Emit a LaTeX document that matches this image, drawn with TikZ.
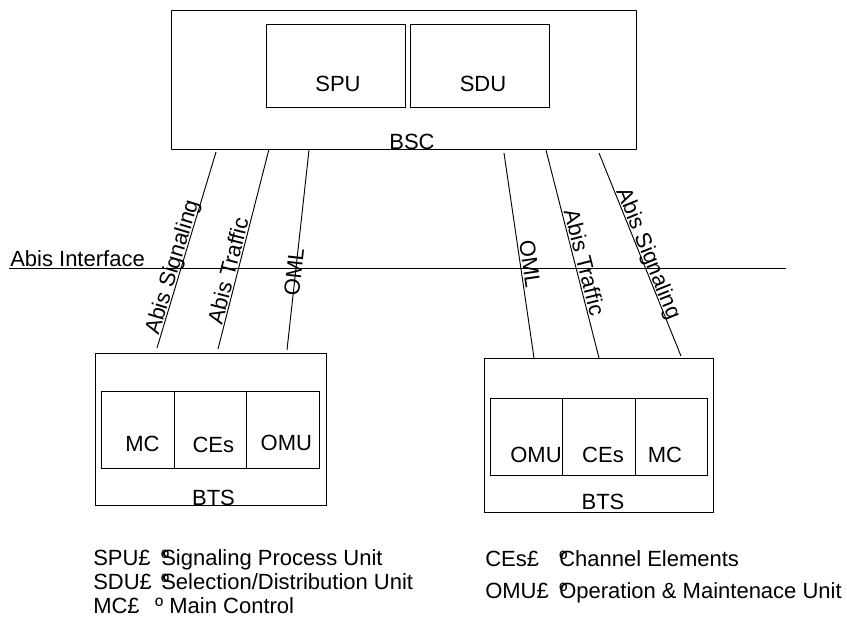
\documentclass[tikz,border=0pt]{standalone}
\usepackage{fontspec}
\setmainfont{Liberation Sans}
\usetikzlibrary{calc}
\begin{document}
\begin{tikzpicture}[x=0.75pt,y=-0.75pt,
  box/.style={draw, line width=0.8pt, inner sep=0pt, anchor=north west},
  txt/.style={inner sep=0pt, anchor=base, font=\fontsize{16.5}{19.8}\selectfont},
  legend/.style={txt, anchor=base west},
  link/.style={line width=0.7pt},
  lab/.style={sloped, inner sep=0pt, anchor=base, font=\fontsize{16.5}{19.8}\selectfont}]
\useasboundingbox (0,0) rectangle (847,629);

% BSC with its two units
\node[box, minimum width=348.75pt, minimum height=104.25pt] (bsc) at (171,10) {};
\node[box, minimum width=104.25pt, minimum height=62.25pt] (spu) at (266,24) {};
\node[box, minimum width=104.25pt, minimum height=62.25pt] (sdu) at (410,24) {};
\node[txt] (spuT) at (338,91.5) {SPU};
\node[txt] (sduT) at (483,91) {SDU};
\node[txt] (bscT) at (412,149) {BSC};

% left BTS
\node[box, minimum width=173.25pt, minimum height=114pt] (btsL) at (95,353) {};
\node[box, minimum width=54.75pt, minimum height=57.75pt] (mcL) at (101,391) {};
\node[box, minimum width=54pt, minimum height=57.75pt] (ceL) at (174,391) {};
\node[box, minimum width=54.75pt, minimum height=57.75pt] (omuL) at (246,391) {};
\node[txt] (mcLT) at (142.5,451) {MC};
\node[txt] (ceLT) at (213.3,452) {CEs};
\node[txt] (omuLT) at (286.3,450) {OMU};
\node[txt] (btsLT) at (213.5,505) {BTS};

% right BTS
\node[box, minimum width=171.75pt, minimum height=115.5pt] (btsR) at (484,358) {};
\node[box, minimum width=54pt, minimum height=57.75pt] (omuR) at (490,398) {};
\node[box, minimum width=54.75pt, minimum height=57.75pt] (ceR) at (562,398) {};
\node[box, minimum width=54pt, minimum height=57.75pt] (mcR) at (635,398) {};
\node[txt] (omuRT) at (536,462) {OMU};
\node[txt] (ceRT) at (603,462) {CEs};
\node[txt] (mcRT) at (665,462) {MC};
\node[txt] (btsRT) at (603,509) {BTS};

% Abis interface
\coordinate (ifL) at (9,268.5);
\coordinate (ifR) at (786,268.5);
\draw[line width=0.9pt] (ifL) -- (ifR);
\node[legend] (ifT) at (10,266) {Abis Interface};

% links to the left BTS
\draw[link] ($(bsc.south west)+(45,2)$) -- ($(btsL.north west)+(62,-5)$)
  node[lab, pos=0.6] {\raisebox{1.5pt}{Abis Signaling}};
\draw[link] ($(bsc.south west)+(98,-1)$) -- ($(btsL.north west)+(123,-4)$)
  node[lab, pos=0.62] {\raisebox{1.5pt}{Abis Traffic}};
\draw[link] ($(bsc.south west)+(138,0)$) -- ($(btsL.north west)+(192,-3)$)
  node[lab, pos=0.61] {\raisebox{-4.5pt}{OML}};

% links to the right BTS
\draw[link] ($(bsc.south west)+(333,3)$) -- ($(btsR.north west)+(50,0)$)
  node[lab, pos=0.55] {\raisebox{1.5pt}{OML}};
\draw[link] ($(bsc.south west)+(375,0)$) -- ($(btsR.north west)+(115,0)$)
  node[lab, pos=0.55] {\raisebox{1.5pt}{Abis Traffic}};
\draw[link] ($(bsc.south west)+(428,3)$) -- ($(btsR.north west)+(197,-2)$)
  node[lab, pos=0.51] {\raisebox{1.5pt}{Abis Signaling}};

% legend
\node[legend] (lg1) at (93,565) {\makebox[51pt][l]{SPU£}\rlap{º}Signaling Process Unit};
\node[legend] (lg2) at (93,589) {\makebox[51pt][l]{SDU£}\rlap{º}Selection/Distribution Unit};
\node[legend] (lg3) at (93,613) {\makebox[46.5pt][l]{MC£}º Main Control};
\node[legend] (lg4) at (485,566) {\makebox[55.5pt][l]{CEs£}\rlap{º}Channel Elements};
\node[legend] (lg5) at (485,598) {\makebox[55.5pt][l]{OMU£}\rlap{º}Operation \& Maintenace Unit};
\end{tikzpicture}
\end{document}
